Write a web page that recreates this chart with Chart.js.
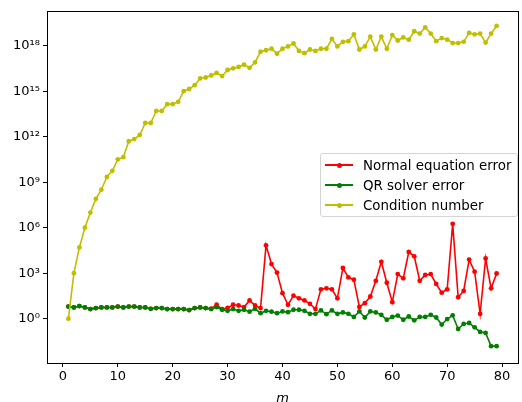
<!DOCTYPE html>
<html>
<head>
<meta charset="utf-8">
<script src="https://cdn.jsdelivr.net/npm/chart.js@4"></script>
<style>
  html, body { margin: 0; padding: 0; background: #fff; }
  #wrap { position: relative; width: 522px; height: 402px; }
  #legend {
    position: absolute; left: 320px; top: 153px; width: 196px; height: 62px;
    border: 1px solid #d4d4d4; border-radius: 3px; background: rgba(255,255,255,0.8);
    font: 13.4px "DejaVu Sans", sans-serif; color: #000;
  }
  .lg-row { position: absolute; left: 4px; height: 16px; display: flex; align-items: center; }
  .lg-line { position: relative; width: 28px; height: 2px; margin-right: 10px; }
  .lg-line::after {
    content: ''; position: absolute; left: 12px; top: -1.5px; width: 5px; height: 5px;
    border-radius: 50%; background: inherit;
  }
</style>
</head>
<body>
<div id="wrap">
  <canvas id="c" width="522" height="402"></canvas>
  <div id="legend"></div>
</div>
<script>
// ── Data ─────────────────────────────────────────────────────────
const mValues = [
  1, 2, 3, 4, 5, 6, 7, 8, 9, 10, 11, 12, 13, 14, 15, 16, 17, 18, 19, 20,
  21, 22, 23, 24, 25, 26, 27, 28, 29, 30, 31, 32, 33, 34, 35, 36, 37, 38, 39, 40,
  41, 42, 43, 44, 45, 46, 47, 48, 49, 50, 51, 52, 53, 54, 55, 56, 57, 58, 59, 60,
  61, 62, 63, 64, 65, 66, 67, 68, 69, 70, 71, 72, 73, 74, 75, 76, 77, 78, 79
];

const normalError = [
  6.3, 5.5, 6.8, 5.5, 4.3, 5.0, 5.5, 5.5, 5.5, 6.3,
  5.5, 6.3, 6.3, 5.5, 5.5, 4.5, 5.0, 5.0, 4.3, 4.3,
  4.3, 4.3, 3.7, 5.0, 5.5, 5.0, 4.6, 8.3, 4.2, 5.2,
  8.3, 7.4, 5.8, 16, 7.4, 5.0, 6.9e4, 4.0e3, 1.1e3, 48,
  8.3, 33, 22, 16, 9.5, 4.3, 87, 100, 87, 22,
  2.2e3, 525, 370, 6.0, 10.5, 29, 316, 5.6e3, 234, 12.3,
  870, 457, 2.5e4, 1.3e4, 316, 760, 870, 195, 52, 87,
  1.8e6, 26, 68, 7.9e3, 1.26e3, 2.1, 9.3e3, 100, 955
];

const qrError = [
  6.3, 5.5, 6.8, 5.5, 4.3, 5.0, 5.5, 5.5, 5.5, 6.3,
  5.5, 6.3, 6.3, 5.5, 5.5, 4.5, 5.0, 5.0, 4.3, 4.3,
  4.3, 4.3, 3.7, 5.0, 5.5, 5.0, 4.3, 5.8, 3.9, 3.3,
  4.3, 3.3, 3.9, 2.9, 4.5, 2.3, 3.3, 2.9, 2.3, 3.0,
  2.7, 3.9, 3.9, 3.3, 2.1, 2.1, 3.5, 2.0, 3.5, 2.1,
  2.6, 2.1, 1.3, 3.0, 1.2, 3.0, 2.6, 1.8, 0.85, 1.3,
  1.6, 0.85, 1.4, 0.78, 1.3, 1.3, 1.8, 1.2, 0.41, 0.95,
  1.66, 0.21, 0.45, 0.52, 0.27, 0.135, 0.115, 0.0155, 0.0155
];

const conditionNumber = [
  1, 1e3, 5e4, 1e6, 1e7, 8e7, 3.2e8, 2.2e9, 5.6e9, 3.2e10,
  4.5e10, 5e11, 7e11, 1.3e12, 8e12, 8e12, 5e13, 5e13, 1.4e14, 1.4e14,
  2e14, 1e15, 1.4e15, 2.5e15, 7e15, 8e15, 1.1e16, 1.6e16, 1e16, 2.5e16,
  3.2e16, 4e16, 5.6e16, 3.5e16, 8e16, 4e17, 5e17, 6.3e17, 3e17, 6.3e17,
  9e17, 1.4e18, 4.5e17, 3.2e17, 5.6e17, 4.5e17, 6.3e17, 6.3e17, 2.8e18, 9e17,
  1.8e18, 2e18, 5.6e18, 5.6e17, 9e17, 4e18, 5.6e17, 4e18, 6.3e17, 5e18,
  2.2e18, 3.5e18, 2.5e18, 9e18, 6.3e18, 1.6e19, 6.3e18, 2e18, 3.2e18, 2.5e18,
  1.5e18, 1.5e18, 1.8e18, 7e18, 5.6e18, 6.3e18, 1.6e18, 6.3e18, 2e19
];

const seriesNames = ['Normal equation error', 'QR solver error', 'Condition number'];
const seriesColors = ['#ff0000', '#008000', '#bfbf00'];

const xTicks = [0, 10, 20, 30, 40, 50, 60, 70, 80];
const yTicks = [1e0, 1e3, 1e6, 1e9, 1e12, 1e15, 1e18];
const yTickLabels = ['10⁰', '10³', '10⁶', '10⁹', '10¹²', '10¹⁵', '10¹⁸'];

// ── Chart ────────────────────────────────────────────────────────
const FONT = { family: '"DejaVu Sans", sans-serif', size: 13 };

const pts = arr => arr.map((v, i) => ({ x: mValues[i], y: v }));

// full box round the plot area (matplotlib spines)
const frame = {
  id: 'frame',
  afterDraw(chart) {
    const { ctx, chartArea: a } = chart;
    ctx.save();
    ctx.strokeStyle = '#000';
    ctx.lineWidth = 1;
    ctx.strokeRect(Math.round(a.left) + 0.5, Math.round(a.top) + 0.5,
      Math.round(a.right - a.left), Math.round(a.bottom - a.top));
    ctx.restore();
  }
};

const dataSets = [normalError, qrError, conditionNumber].map((arr, i) => ({
  label: seriesNames[i],
  data: pts(arr),
  borderColor: seriesColors[i],
  backgroundColor: seriesColors[i],
  borderWidth: 1.6,
  pointRadius: 2.4,
  pointBorderWidth: 0,
  tension: 0,
  order: 3 - i,
}));

new Chart(document.getElementById('c'), {
  type: 'line',
  data: { datasets: dataSets },
  options: {
    responsive: false,
    animation: false,
    layout: { padding: { top: 8, right: 2, left: 0, bottom: 0 } },
    plugins: { legend: { display: false }, tooltip: { enabled: false } },
    scales: {
      x: {
        type: 'linear',
        min: -2.9,
        max: 82.9,
        afterBuildTicks: s => { s.ticks = xTicks.map(v => ({ value: v })); },
        afterFit: s => { s.height = 39; },
        border: { display: false },
        grid: { drawOnChartArea: false, drawTicks: true, tickLength: 4, color: '#000' },
        ticks: { color: '#000', font: FONT, padding: 2, maxRotation: 0 },
        title: {
          display: true, text: 'm', color: '#000',
          font: { ...FONT, style: 'italic' }, padding: { top: 0, bottom: -4 }
        }
      },
      y: {
        type: 'logarithmic',
        min: 1.2e-3,
        max: 2e20,
        afterBuildTicks: s => { s.ticks = yTicks.map(v => ({ value: v })); },
        afterFit: s => { s.width = 47; },
        border: { display: false },
        grid: { drawOnChartArea: false, drawTicks: true, tickLength: 4, color: '#000' },
        ticks: {
          color: '#000', font: FONT, padding: 3,
          callback: v => {
            const k = yTicks.indexOf(v);
            return k >= 0 ? yTickLabels[k] : '';
          }
        }
      }
    }
  },
  plugins: [frame]
});

// ── Legend ───────────────────────────────────────────────────────
const legendEl = document.getElementById('legend');
seriesNames.forEach((name, i) => {
  const row = document.createElement('div');
  row.className = 'lg-row';
  row.style.top = (3 + i * 20) + 'px';
  row.innerHTML = `<span class="lg-line" style="background:${seriesColors[i]}"></span><span>${name}</span>`;
  legendEl.appendChild(row);
});
</script>
</body>
</html>
